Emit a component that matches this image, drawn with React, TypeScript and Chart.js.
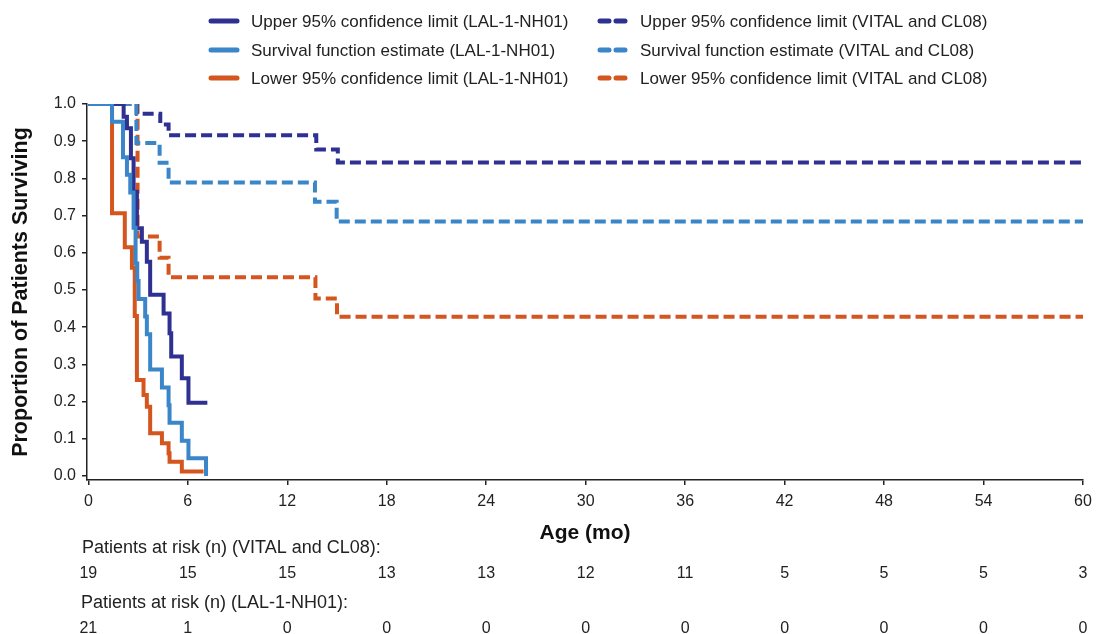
import React, { useEffect, useRef } from "react";
import { Chart, registerables } from "chart.js";

Chart.register(...registerables);

const FONT = "'Liberation Sans', Arial, Helvetica, sans-serif";

// Axis ticks
const xTicks = [0, 6, 12, 18, 24, 30, 36, 42, 48, 54, 60];
const xTickLabels = ["0", "6", "12", "18", "24", "30", "36", "42", "48", "54", "60"];
const yTicks = [0, 0.1, 0.2, 0.3, 0.4, 0.5, 0.6, 0.7, 0.8, 0.9, 1.0];
const yTickLabels = ["0.0", "0.1", "0.2", "0.3", "0.4", "0.5", "0.6", "0.7", "0.8", "0.9", "1.0"];

// LAL-1-NH01 (solid)
const lalSurvTimes = [0, 1.43, 2.09, 2.33, 2.53, 2.73, 2.85, 2.95, 3.03, 3.43, 3.53, 3.73, 4.44, 4.84, 4.9, 5.64, 6.04, 7.1];
const lalSurvValues = [1.0, 0.952, 0.857, 0.81, 0.762, 0.667, 0.571, 0.524, 0.476, 0.429, 0.381, 0.286, 0.238, 0.19, 0.143, 0.095, 0.048, 0.0];
const lalUpperTimes = [0, 2.13, 2.33, 2.57, 2.73, 2.93, 3.23, 3.53, 3.73, 4.54, 4.9, 5.0, 5.64, 6.04, 7.18];
const lalUpperValues = [1.0, 0.966, 0.935, 0.854, 0.764, 0.666, 0.63, 0.576, 0.487, 0.437, 0.384, 0.321, 0.263, 0.197, 0.197];
const lalLowerTimes = [0, 1.43, 2.2, 2.63, 2.8, 2.93, 3.33, 3.53, 3.73, 4.44, 4.84, 4.9, 5.64, 6.95];
const lalLowerValues = [1.0, 0.706, 0.615, 0.56, 0.43, 0.258, 0.218, 0.186, 0.115, 0.088, 0.061, 0.038, 0.012, 0.012];

// VITAL and CL08 (dashed)
const vitSurvTimes = [0, 2.9, 4.3, 4.84, 13.67, 14.98, 60];
const vitSurvValues = [1.0, 0.895, 0.842, 0.789, 0.737, 0.684, 0.684];
const vitUpperTimes = [0, 2.93, 4.34, 4.84, 13.75, 15.05, 60];
const vitUpperValues = [1.0, 0.974, 0.945, 0.916, 0.878, 0.843, 0.843];
const vitLowerTimes = [0, 2.97, 4.3, 4.84, 13.7, 15.0, 60];
const vitLowerValues = [1.0, 0.644, 0.587, 0.534, 0.477, 0.428, 0.428];

// Patients at risk
const riskTimes = [0, 6, 12, 18, 24, 30, 36, 42, 48, 54, 60];
const riskVital = [19, 15, 15, 13, 13, 12, 11, 5, 5, 5, 3];
const riskLal = [21, 1, 0, 0, 0, 0, 0, 0, 0, 0, 0];
const riskVitalLabel = "Patients at risk (n) (VITAL and CL08):";
const riskLalLabel = "Patients at risk (n) (LAL-1-NH01):";

const DARK = "#2e3192";
const LIGHT = "#3a86c8";
const ORANGE = "#d4561e";
const TEXT = "#222222";
const DASH = [11, 5];

const pts = (t: number[], v: number[]) => t.map((x, i) => ({ x, y: v[i] }));

function makeSet(label: string, t: number[], v: number[], color: string, dashed: boolean) {
  return {
    label,
    data: pts(t, v),
    borderColor: color,
    backgroundColor: color,
    borderWidth: 4,
    borderDash: dashed ? DASH : [],
    stepped: true as const,
    pointRadius: 0,
    fill: false,
  };
}

// legend slots: dataset index per [row][col]
const legendGrid = [
  [1, 4],
  [0, 3],
  [2, 5],
];

const legendPlugin = {
  id: "gridLegend",
  afterDraw(chart: any) {
    const { ctx } = chart;
    const colX = [208, 597];
    const rowY = [21, 50, 78];
    ctx.save();
    legendGrid.forEach((row, r) => {
      row.forEach((di, c) => {
        const ds = chart.data.datasets[di];
        const y = rowY[r];
        const x0 = colX[c];
        const dashed = ds.borderDash && ds.borderDash.length;
        ctx.strokeStyle = ds.borderColor;
        ctx.lineWidth = 5;
        ctx.lineCap = "round";
        ctx.setLineDash(dashed ? [9, 7] : []);
        ctx.beginPath();
        ctx.moveTo(x0 + 3, y);
        ctx.lineTo(x0 + 29, y);
        ctx.stroke();
        ctx.setLineDash([]);
        ctx.fillStyle = TEXT;
        ctx.font = `17px ${FONT}`;
        ctx.textBaseline = "middle";
        ctx.textAlign = "left";
        ctx.fillText(ds.label, x0 + 43, y + 1);
      });
    });
    ctx.restore();
  },
};

const riskPlugin = {
  id: "riskTable",
  afterDraw(chart: any) {
    const { ctx } = chart;
    const xs = chart.scales.x;
    ctx.save();
    ctx.fillStyle = TEXT;
    ctx.textBaseline = "middle";
    ctx.textAlign = "left";
    ctx.font = `18px ${FONT}`;
    ctx.fillText(riskVitalLabel, 82, 548);
    ctx.fillText(riskLalLabel, 81, 603);
    ctx.font = `16px ${FONT}`;
    ctx.textAlign = "center";
    riskTimes.forEach((t, i) => {
      const x = xs.getPixelForValue(t);
      ctx.fillText(String(riskVital[i]), x, 574);
      ctx.fillText(String(riskLal[i]), x, 629);
    });
    ctx.restore();
  },
};

export default function App() {
  const ref = useRef<HTMLCanvasElement>(null);
  useEffect(() => {
    document.body.style.margin = "0";
    const canvas = ref.current!;
    const chart = new Chart(canvas, {
      type: "line",
      data: {
        datasets: [
          makeSet("Survival function estimate (LAL-1-NH01)", lalSurvTimes, lalSurvValues, LIGHT, false),
          makeSet("Upper 95% confidence limit (LAL-1-NH01)", lalUpperTimes, lalUpperValues, DARK, false),
          makeSet("Lower 95% confidence limit (LAL-1-NH01)", lalLowerTimes, lalLowerValues, ORANGE, false),
          makeSet("Survival function estimate (VITAL and CL08)", vitSurvTimes, vitSurvValues, LIGHT, true),
          makeSet("Upper 95% confidence limit (VITAL and CL08)", vitUpperTimes, vitUpperValues, DARK, true),
          makeSet("Lower 95% confidence limit (VITAL and CL08)", vitLowerTimes, vitLowerValues, ORANGE, true),
        ] as any,
      },
      options: {
        animation: false,
        responsive: false,
        devicePixelRatio: 1,
        layout: { padding: { left: 0, right: 13, top: 104, bottom: 0 } },
        plugins: {
          legend: { display: false },
          tooltip: { enabled: false },
        },
        scales: {
          x: {
            type: "linear",
            min: -0.08,
            max: 60,
            afterBuildTicks: (s: any) => {
              s.ticks = xTicks.map((v) => ({ value: v }));
            },
            afterFit: (s: any) => {
              s.height = 154;
              s.paddingLeft = 0;
              s.paddingRight = 0;
            },
            ticks: {
              autoSkip: false,
              maxRotation: 0,
              padding: 7,
              color: TEXT,
              font: { size: 16, family: FONT },
              callback: (_v: any, i: number) => xTickLabels[i],
            },
            grid: { drawOnChartArea: false, drawTicks: true, tickLength: 5, color: TEXT, lineWidth: 1.5 },
            border: { display: true, color: TEXT, width: 1.5 },
            title: {
              display: true,
              text: "Age (mo)",
              color: "#111",
              font: { size: 21, weight: "bold", family: FONT },
              padding: { top: 0, bottom: 88 },
            },
          },
          y: {
            type: "linear",
            min: -0.0108,
            max: 1.0,
            afterBuildTicks: (s: any) => {
              s.ticks = yTicks.map((v) => ({ value: v }));
            },
            afterFit: (s: any) => {
              s.width = 87;
              s.paddingTop = 0;
              s.paddingBottom = 0;
            },
            ticks: {
              padding: 6,
              color: TEXT,
              font: { size: 16, family: FONT },
              callback: (_v: any, i: number) => yTickLabels[i],
            },
            grid: { drawOnChartArea: false, drawTicks: true, tickLength: 5, color: TEXT, lineWidth: 1.5 },
            border: { display: true, color: TEXT, width: 1.5 },
            title: {
              display: true,
              text: "Proportion of Patients Surviving",
              color: "#111",
              font: { size: 21.5, weight: "bold", family: FONT },
              padding: { top: 8, bottom: 0 },
            },
          },
        },
      } as any,
      plugins: [legendPlugin, riskPlugin],
    });
    return () => chart.destroy();
  }, []);
  return <canvas ref={ref} width={1096} height={634} style={{ display: "block" }} />;
}
